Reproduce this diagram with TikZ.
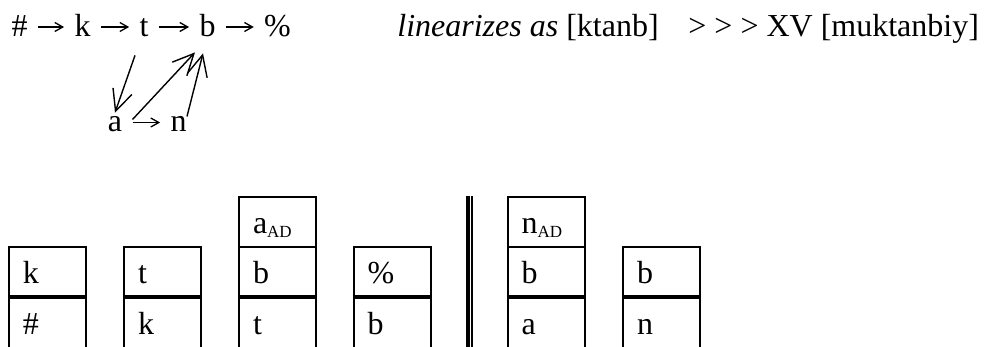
\documentclass[tikz,border=0pt]{standalone}
\usepackage{fontspec}
\setmainfont{Liberation Serif}
\usetikzlibrary{arrows.meta}

\newcommand{\lowsub}[1]{\raisebox{-2pt}{\fontsize{8.5}{10}\selectfont #1}}

\begin{document}
\begin{tikzpicture}[x=0.5pt, y=-0.5pt,
    every node/.style={font=\fontsize{16}{19}\selectfont},
    % estilos
    sym/.style={
        inner xsep=5pt, inner ysep=0pt, anchor=base,
        text height=9.5pt, text depth=0pt
    },
    harr/.style={
        -{Straight Barb[length=4pt, width=4.5pt]}, line width=0.65pt
    },
    darr/.style={
        -{Straight Barb[length=10.5pt, width=10pt]}, line width=0.7pt
    },
    cell/.style={
        draw, line width=1pt, minimum width=38.5pt, minimum height=25pt,
        inner xsep=7pt, inner ysep=0pt, text width=24.5pt, align=left,
        text height=11.5pt, text depth=0pt
    },
    seam/.style={
        line width=1.5pt
    },
    note/.style={
        inner sep=0pt, anchor=base west
    }
]
\clip (0,0) rectangle (996,347);

% =============================================
% GRAFO (fila superior)
% =============================================
\node[sym] (hash) at (19.5, 36.5) {\#};
\node[sym] (k)    at (82.5, 36.5) {k};
\node[sym] (t)    at (144, 36.5)  {t};
\node[sym] (b)    at (207.5, 36.5) {b};
\node[sym] (pct)  at (277.5, 36.5) {\%};

\draw[harr] (hash) -- (k);
\draw[harr] (k) -- (t);
\draw[harr] (t) -- (b);
\draw[harr] (b) -- (pct);

% afijo
\node[sym] (a) at (115, 132)   {a};
\node[sym] (n) at (178.5, 132) {n};
\draw[harr] (a) -- (n);

\draw[darr] ([shift={(-9,18.5)}]t.south) -- (a.north);
\draw[darr] ([shift={(0,-3)}]a.east) -- ([shift={(-12.5,15.5)}]b.south);
\draw[darr] ([shift={(8.5,-6)}]n.center) -- ([shift={(-4.5,16.5)}]b.south);

% =============================================
% LINEARIZACION
% =============================================
\node[note] (lin) at (397, 36.5) {\textit{linearizes as} [ktanb]};
\node[note] (out) at (688, 36.5) {> > > XV [muktanbiy]};

% =============================================
% PILAS (fila inferior)
% =============================================
\node[cell] (c1t) at (47.5, 272.5) {k};
\node[cell] (c1b) at (47.5, 323)   {\#};
\draw[seam] (c1b.north west) -- (c1b.north east);

\node[cell] (c2t) at (162.5, 272.5) {t};
\node[cell] (c2b) at (162.5, 323)   {k};
\draw[seam] (c2b.north west) -- (c2b.north east);

\node[cell] (c3x) at (277.5, 222)   {a\lowsub{AD}};
\node[cell] (c3t) at (277.5, 272.5) {b};
\node[cell] (c3b) at (277.5, 323)   {t};
\draw[seam] (c3b.north west) -- (c3b.north east);

\node[cell] (c4t) at (392, 272.5) {\%};
\node[cell] (c4b) at (392, 323)   {b};
\draw[seam] (c4b.north west) -- (c4b.north east);

% barra doble
\coordinate (bartop) at (468, 196);
\coordinate (barbot) at (468, 348);
\draw[line width=2pt] (bartop) -- (barbot);
\draw[line width=1pt] ([xshift=2.1pt]bartop) -- ([xshift=2.1pt]barbot);

\node[cell] (c5x) at (546, 222)   {n\lowsub{AD}};
\node[cell] (c5t) at (546, 272.5) {b};
\node[cell] (c5b) at (546, 323)   {a};
\draw[seam] (c5b.north west) -- (c5b.north east);

\node[cell] (c6t) at (661.5, 272.5) {b};
\node[cell] (c6b) at (661.5, 323)   {n};
\draw[seam] (c6b.north west) -- (c6b.north east);

\end{tikzpicture}
\end{document}
